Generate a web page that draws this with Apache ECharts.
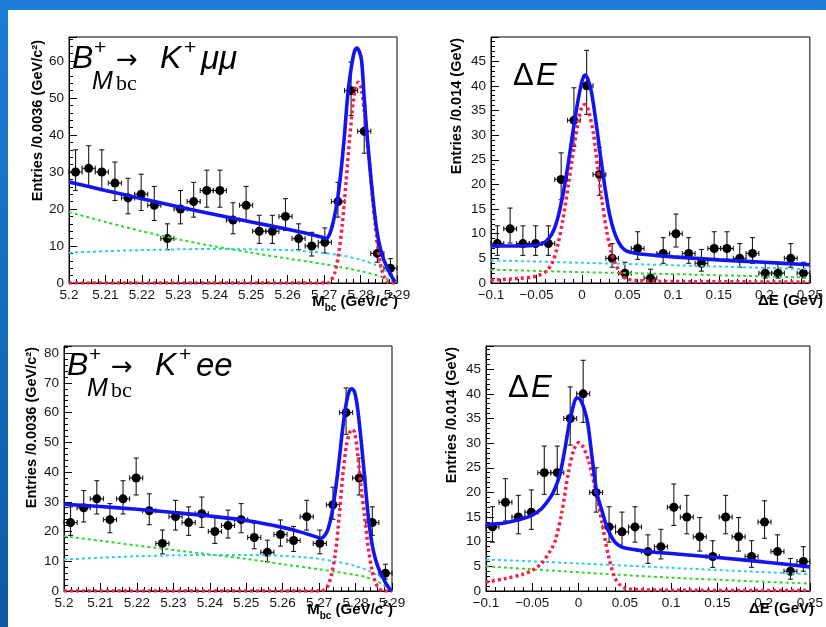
<!DOCTYPE html>
<html><head><meta charset="utf-8">
<script src="https://cdn.jsdelivr.net/npm/echarts@6/dist/echarts.min.js"></script>
<style>html,body{margin:0;padding:0;background:#fff}#c{width:826px;height:627px}</style>
</head><body><div id="c"></div>
<script>
// ---------- bin centres ----------
const mbcX = [5.2018,5.2054,5.209,5.2126,5.2162,5.2198,5.2234,5.227,5.2306,5.2342,5.2378,5.2414,5.245,5.2486,5.2522,5.2558,5.2594,5.263,5.2666,5.2702,5.2738,5.2774,5.281,5.2846,5.2882];
const deX  = [-0.093,-0.079,-0.065,-0.051,-0.037,-0.023,-0.009,0.005,0.019,0.033,0.047,0.061,0.075,0.089,0.103,0.117,0.131,0.145,0.159,0.173,0.187,0.201,0.215,0.229,0.243];

// ---------- K+ mu mu, Mbc ----------
const p1Y  = [30,31,30,27,23,24,21,12,20,22,25,25,17,21,14,14,18,12,10,11,22,52,41,8,4];
const p1Lo = [25.0,25.9,25.0,22.3,18.7,19.6,16.9,9.0,16.0,17.8,20.5,20.5,13.3,16.9,10.7,10.7,14.2,9.0,7.3,8.1,17.8,45.3,35.1,5.6,2.4];
const p1Hi = [36.0,37.1,36.0,32.7,28.3,29.4,26.1,16.0,25.0,27.2,30.5,30.5,21.7,26.1,18.3,18.3,22.8,16.0,13.7,14.9,27.2,59.7,47.9,11.4,6.6];
const p1Total = [[5.2,27.3],[5.21,25.0],[5.22,22.8],[5.23,20.6],[5.24,18.5],[5.25,16.5],[5.26,14.5],[5.269,12.5],[5.2705,12.0],[5.2715,13.2],[5.2725,16.5],[5.2735,21.5],[5.2745,29],[5.2755,39],[5.2765,51],[5.2775,58.5],[5.2783,62.5],[5.279,63.5],[5.2797,62.5],[5.2803,60],[5.281,50],[5.2817,41],[5.2825,32],[5.2835,22],[5.2845,14],[5.2855,9],[5.2865,6],[5.2875,3.8],[5.2885,1.8],[5.2895,0.3]];
const p1Sig = [[5.2,0],[5.271,0],[5.272,0.8],[5.273,3],[5.274,8],[5.275,16],[5.276,27],[5.277,39],[5.278,49],[5.2787,53],[5.2794,54.3],[5.2802,52.5],[5.281,47],[5.2817,40],[5.2825,32],[5.2832,24],[5.284,16],[5.2848,9.5],[5.2856,4.5],[5.2864,1.8],[5.2872,0.5],[5.288,0],[5.29,0]];
const p1BkgA = [[5.2,19.2],[5.21,16.5],[5.22,14.0],[5.23,11.8],[5.24,9.9],[5.25,8.2],[5.26,6.6],[5.27,5.1],[5.28,3.2],[5.285,1.9],[5.288,0.8],[5.2895,0]];
const p1BkgB = [[5.2,8.2],[5.21,8.6],[5.22,8.9],[5.23,9.1],[5.24,9.2],[5.25,9.1],[5.26,8.9],[5.265,8.6],[5.27,8.1],[5.275,7.4],[5.28,6.3],[5.284,4.9],[5.287,3.2],[5.289,1.0],[5.2897,0]];

// ---------- K+ mu mu, Delta E ----------
const p2Y  = [8,11,8,8,8,21,33,40,22,5,2,7,1,6,10,6,4,7,7,5,6,2,2,5,2];
const p2Lo = [5.6,8.1,5.6,5.6,5.6,16.9,27.7,34.2,17.8,3.2,1.0,4.8,0.4,4.0,7.3,4.0,2.4,4.8,4.8,3.2,4.0,1.0,1.0,3.2,1.0];
const p2Hi = [11.6,15.2,11.6,11.6,11.6,26.4,39.6,47.2,27.5,8.0,4.2,10.4,2.8,9.2,14.0,9.2,6.8,10.4,10.4,8.0,9.2,4.2,4.2,8.0,4.2];
const p2Total = [[-0.1,7.5],[-0.07,7.5],[-0.05,7.7],[-0.04,8.4],[-0.033,10],[-0.027,13],[-0.021,18],[-0.015,24.5],[-0.009,32],[-0.004,37.5],[0,41],[0.003,42.2],[0.006,41.5],[0.01,39],[0.015,33],[0.02,26],[0.025,19.5],[0.03,14],[0.035,10.5],[0.04,8.3],[0.045,7],[0.05,6.4],[0.06,6.0],[0.08,5.6],[0.1,5.3],[0.15,4.7],[0.2,4.2],[0.25,3.7]];
const p2Sig = [[-0.1,0.6],[-0.07,0.9],[-0.05,1.4],[-0.04,2.3],[-0.033,4],[-0.027,7.5],[-0.021,13],[-0.015,20],[-0.009,27.5],[-0.004,33],[0,35.8],[0.003,36.2],[0.007,35],[0.0127,30],[0.017,23.5],[0.022,16.5],[0.027,10.5],[0.032,6.3],[0.037,3.7],[0.042,2.0],[0.048,0.9],[0.06,0.5],[0.1,0.3],[0.25,0.2]];
const p2BkgA = [[-0.1,2.7],[0,2.2],[0.1,1.8],[0.25,1.1]];
const p2BkgB = [[-0.1,4.6],[0,4.1],[0.1,3.6],[0.25,2.8]];

// ---------- K+ e e, Mbc ----------
const p3Y  = [23,28,31,24,31,38,27,16,25,23,26,20,22,24,18,13,19,17,25,16,29,60,38,23,6];
const p3Lo = [18.7,23.2,25.9,19.6,25.9,32.3,22.3,12.5,20.5,18.7,21.4,16.0,17.8,19.6,14.2,9.9,15.1,13.3,20.5,12.5,24.1,52.7,32.3,18.7,4.0];
const p3Hi = [28.3,33.8,37.1,29.4,37.1,44.7,32.7,20.5,30.5,28.3,31.6,25.0,27.2,29.4,22.8,17.1,23.9,21.7,30.5,20.5,34.9,68.3,44.7,28.3,9.0];
const p3Total = [[5.2,29.2],[5.21,28.4],[5.22,27.5],[5.23,26.4],[5.24,25.2],[5.25,23.7],[5.26,21.4],[5.265,19.8],[5.2695,18.1],[5.2705,17.7],[5.2715,18.6],[5.2725,21],[5.2735,26],[5.2745,34],[5.2755,44],[5.2765,55],[5.2775,63.5],[5.2783,67.3],[5.279,68],[5.2797,67],[5.2805,62],[5.2815,51],[5.2825,38],[5.2835,25],[5.2845,16],[5.2855,10.5],[5.2865,7],[5.2875,4.5],[5.2885,2.2],[5.2898,0]];
const p3Sig = [[5.2,0],[5.2705,0],[5.2715,0.5],[5.2725,2],[5.2735,6],[5.2745,13],[5.2755,25],[5.2765,39],[5.2775,49],[5.2783,53],[5.279,54.3],[5.2797,53.5],[5.2805,47],[5.2815,35],[5.2825,25],[5.2835,14.5],[5.2845,7],[5.2855,2.7],[5.2865,0.8],[5.2875,0],[5.29,0]];
const p3BkgA = [[5.2,18.4],[5.21,16.9],[5.22,15.3],[5.23,13.8],[5.24,12.3],[5.25,10.8],[5.26,9.0],[5.27,7.3],[5.275,6.4],[5.28,5.4],[5.283,4.6],[5.286,3.2],[5.288,1.8],[5.2895,0.3]];
const p3BkgB = [[5.2,10.6],[5.21,11.2],[5.22,11.7],[5.23,12.0],[5.24,12.1],[5.25,12.1],[5.26,11.8],[5.265,11.4],[5.27,10.8],[5.275,9.8],[5.28,8.4],[5.284,6.6],[5.287,4.5],[5.289,2.0],[5.29,0]];

// ---------- K+ e e, Delta E ----------
const p4Y  = [13,18,15,16,24,24,35,40,20,13,12,13,8,9,17,15,11,7,15,11,7,14,8,4,6];
const p4Lo = [9.9,14.2,11.6,12.5,19.6,19.6,29.6,34.2,16.0,9.9,9.0,9.9,5.6,6.5,13.3,11.6,8.1,4.8,11.6,8.1,4.8,10.7,5.6,2.4,4.0];
const p4Hi = [17.1,22.8,19.4,20.5,29.4,29.4,41.4,46.8,25.0,17.1,16.0,17.1,11.4,12.5,21.7,19.4,14.9,10.2,19.4,14.9,10.2,18.3,11.4,6.6,9.0];
const p4Total = [[-0.1,13.5],[-0.08,13.8],[-0.06,14.7],[-0.05,15.4],[-0.04,16.7],[-0.03,19.1],[-0.025,21],[-0.02,23.7],[-0.015,28.5],[-0.01,34],[-0.005,38],[-0.002,39.2],[0.002,38.8],[0.006,37],[0.01,34],[0.015,26.5],[0.02,19.7],[0.025,16.5],[0.03,13.3],[0.035,11.2],[0.04,9.8],[0.045,9.1],[0.05,8.7],[0.06,8.4],[0.08,7.9],[0.1,7.6],[0.15,6.8],[0.2,5.9],[0.25,4.9]];
const p4Sig = [[-0.1,1.8],[-0.08,2.5],[-0.06,3.4],[-0.05,4.2],[-0.04,5.6],[-0.03,8.3],[-0.025,10.3],[-0.018,16],[-0.011,24],[-0.005,28.7],[0,30.1],[0.005,29.2],[0.011,26.3],[0.018,20.8],[0.025,14.2],[0.032,7.4],[0.039,2.8],[0.045,1.2],[0.05,0.6],[0.06,0.3],[0.1,0.15],[0.25,0.1]];
const p4BkgA = [[-0.1,5.0],[0,3.8],[0.1,2.7],[0.25,1.5]];
const p4BkgB = [[-0.1,6.4],[0,5.6],[0.1,4.7],[0.25,3.4]];

// ---------- axes ----------
const mbcRange = [5.2, 5.29], mbcStep = 0.01;
const deRange = [-0.1, 0.25], deStep = 0.05;
const yMax = [66.5, 49.9, 82.4, 49.7];
const yStep = [10, 5, 10, 5];

// ---------- layout ----------
const grids = [
  {left:69, top:37, width:328, height:246},
  {left:491, top:37, width:329, height:246},
  {left:64, top:346, width:328, height:245},
  {left:486, top:346, width:329, height:245}
];

const FONT = 'Liberation Sans, Arial, Helvetica, sans-serif';
const fmt = v => { let s = String(parseFloat((+v).toFixed(4))); return s.replace('-', '\u2212'); };

function xAxis(i, range, step){
  return {type:'value', gridIndex:i, min:range[0], max:range[1], interval:step,
    axisLine:{show:true, onZero:false, lineStyle:{color:'#000', width:1}},
    axisTick:{show:true, inside:true, length:8, lineStyle:{color:'#000'}},
    minorTick:{show:true, splitNumber:5, length:4, lineStyle:{color:'#000'}},
    splitLine:{show:false},
    axisLabel:{show:true, margin:5, color:'#151515', fontSize:13.5, fontFamily:FONT, formatter:fmt, showMinLabel:true, showMaxLabel:true}
  };
}
function yAxis(i){
  return {type:'value', gridIndex:i, min:0, max:yMax[i], interval:yStep[i],
    axisLine:{show:true, onZero:false, lineStyle:{color:'#000', width:1}},
    axisTick:{show:true, inside:true, length:8, lineStyle:{color:'#000'}},
    minorTick:{show:true, splitNumber:5, length:4, lineStyle:{color:'#000'}},
    splitLine:{show:false},
    axisLabel:{show:true, margin:5, color:'#151515', fontSize:13.5, fontFamily:FONT, formatter:fmt, showMaxLabel:false}
  };
}

function errItem(hw){
  return function(params, api){
    const x = api.value(0), y = api.value(1), lo = api.value(2), hi = api.value(3);
    const c = api.coord([x, y]), l = api.coord([x - hw, y]), r = api.coord([x + hw, y]);
    const t = api.coord([x, hi]), b = api.coord([x, lo]);
    const st = {stroke:'#1a1a1a', lineWidth:1.1};
    const cap = 2.5;
    return {type:'group', children:[
      {type:'line', shape:{x1:l[0], y1:c[1], x2:r[0], y2:c[1]}, style:st},
      {type:'line', shape:{x1:l[0], y1:c[1]-cap, x2:l[0], y2:c[1]+cap}, style:st},
      {type:'line', shape:{x1:r[0], y1:c[1]-cap, x2:r[0], y2:c[1]+cap}, style:st},
      {type:'line', shape:{x1:c[0], y1:t[1], x2:c[0], y2:b[1]}, style:st},
      {type:'line', shape:{x1:c[0]-cap, y1:t[1], x2:c[0]+cap, y2:t[1]}, style:st},
      {type:'line', shape:{x1:c[0]-cap, y1:b[1], x2:c[0]+cap, y2:b[1]}, style:st},
      {type:'circle', shape:{cx:c[0], cy:c[1], r:4.5}, style:{fill:'#000'}}
    ]};
  };
}

const BLUE = '#1414f0', RED = '#f5204c', GREEN = '#2fd62f', CYAN = '#2fd2d6';
function curve(i, data, color, width, type, z){
  return {type:'line', xAxisIndex:i, yAxisIndex:i, data:data, showSymbol:false, symbol:'none',
    smooth:0.3, silent:true, z:z,
    lineStyle:{color:color, width:width, type:type, cap:'butt'}};
}
function points(i, xs, ys, lo, hi, hw){
  return {type:'custom', xAxisIndex:i, yAxisIndex:i, renderItem:errItem(hw), z:2, silent:true,
    encode:{x:0, y:1},
    data: xs.map((x, k) => [x, ys[k], lo[k], hi[k]])};
}

const panels = [
  {xs:mbcX, y:p1Y, lo:p1Lo, hi:p1Hi, tot:p1Total, sig:p1Sig, a:p1BkgA, b:p1BkgB, hw:0.0018},
  {xs:deX, y:p2Y, lo:p2Lo, hi:p2Hi, tot:p2Total, sig:p2Sig, a:p2BkgA, b:p2BkgB, hw:0.007},
  {xs:mbcX, y:p3Y, lo:p3Lo, hi:p3Hi, tot:p3Total, sig:p3Sig, a:p3BkgA, b:p3BkgB, hw:0.0018},
  {xs:deX, y:p4Y, lo:p4Lo, hi:p4Hi, tot:p4Total, sig:p4Sig, a:p4BkgA, b:p4BkgB, hw:0.007}
];

const series = [];
panels.forEach((p, i) => {
  series.push(points(i, p.xs, p.y, p.lo, p.hi, p.hw));
  series.push(curve(i, p.a, GREEN, 2, [3, 3], 3));
  series.push(curve(i, p.b, CYAN, 2, [3, 3], 3));
  series.push(curve(i, p.sig, RED, 3.5, [3, 3], 4));
  series.push(curve(i, p.tot, BLUE, 3.6, 'solid', 5));
});

// ---------- texts ----------
function txt(x, y, s, size, opts){
  opts = opts || {};
  return {type:'text', x:x, y:y, rotation:opts.rot || 0, z:100, silent:true,
    style:{text:s, fill:opts.color || '#000', fontSize:size, fontFamily:opts.family || FONT,
      fontStyle:opts.style || 'normal', fontWeight:opts.weight || 'normal',
      align:opts.align || 'left', verticalAlign:opts.va || 'middle',
      textAlign:opts.align || 'left', textVerticalAlign:opts.va || 'middle', rich:opts.rich}};
}
const titleRich = {
  a:{fontSize:15, fontWeight:'bold', fontFamily:FONT, fill:'#000', lineHeight:22, verticalAlign:'middle'},
  s:{fontSize:10, fontWeight:'bold', fontFamily:FONT, fill:'#000', lineHeight:10, verticalAlign:'bottom'},
  p:{fontSize:9, fontWeight:'bold', fontFamily:FONT, fill:'#000', lineHeight:9, verticalAlign:'top'}
};
const SERIF = 'Liberation Serif, DejaVu Serif, serif';
function decay(dx, dy, last){
  return [
    txt(72+dx, 59+dy, 'B', 32, {style:'italic'}),
    txt(94+dx, 48+dy, '+', 21),
    txt(116+dx, 61+dy, '\u2192', 26, {family:'DejaVu Sans'}),
    txt(160+dx, 59+dy, 'K', 32, {style:'italic'}),
    txt(184+dx, 48+dy, '+', 21),
    txt(201+dx, 60+dy, last, 33, {style:'italic'}),
    txt(92+dx, 82+dy, 'M', 25, {style:'italic'}),
    txt(116+dx, 84+dy, 'bc', 22, {family:SERIF})
  ];
}
function dE(x, y){
  return [txt(x, y, '\u0394', 31), txt(x+23, y, 'E', 31, {style:'italic'})];
}

const graphics = [
  {type:'rect', shape:{x:0, y:0, width:826, height:10}, style:{fill:'#1c7cd6'}, z:0, silent:true},
  {type:'rect', shape:{x:0, y:0, width:8, height:627}, z:0, silent:true,
    style:{fill:new echarts.graphic.LinearGradient(0,0,0,1,[{offset:0,color:'#1c7cd6'},{offset:1,color:'#0d5aa6'}])}},
  txt(38, 40, 'Entries /0.0036 (GeV/c\u00b2)', 14.5, {weight:'bold', rot:Math.PI/2, align:'right'}),
  txt(457, 38, 'Entries /0.014 (GeV)', 14.5, {weight:'bold', rot:Math.PI/2, align:'right'}),
  txt(32, 347, 'Entries /0.0036 (GeV/c\u00b2)', 14.5, {weight:'bold', rot:Math.PI/2, align:'right'}),
  txt(452, 347, 'Entries /0.014 (GeV)', 14.5, {weight:'bold', rot:Math.PI/2, align:'right'}),
  txt(398, 302, '{a|M}{s|bc}{a| (GeV/c}{p|2}{a|)}', 15, {align:'right', rich:titleRich}),
  txt(393, 610, '{a|M}{s|bc}{a| (GeV/c}{p|2}{a|)}', 15, {align:'right', rich:titleRich}),
  txt(823, 301, '{a|\u0394E (GeV)}', 15, {align:'right', rich:titleRich}),
  txt(814, 609, '{a|\u0394E (GeV)}', 15, {align:'right', rich:titleRich})
].concat(decay(0, 0, '\u03bc\u03bc'), decay(-5, 307, 'ee'), dE(513, 76), dE(508, 388));

const chart = echarts.init(document.getElementById('c'), null, {renderer:'canvas'});
chart.setOption({
  animation:false,
  backgroundColor:'#fff',
  grid: grids.map(g => Object.assign({show:true, borderColor:'#000', borderWidth:1, backgroundColor:'transparent', containLabel:false}, g)),
  xAxis:[xAxis(0, mbcRange, mbcStep), xAxis(1, deRange, deStep), xAxis(2, mbcRange, mbcStep), xAxis(3, deRange, deStep)],
  yAxis:[yAxis(0), yAxis(1), yAxis(2), yAxis(3)],
  series: series,
  graphic: graphics
});
</script></body></html>
